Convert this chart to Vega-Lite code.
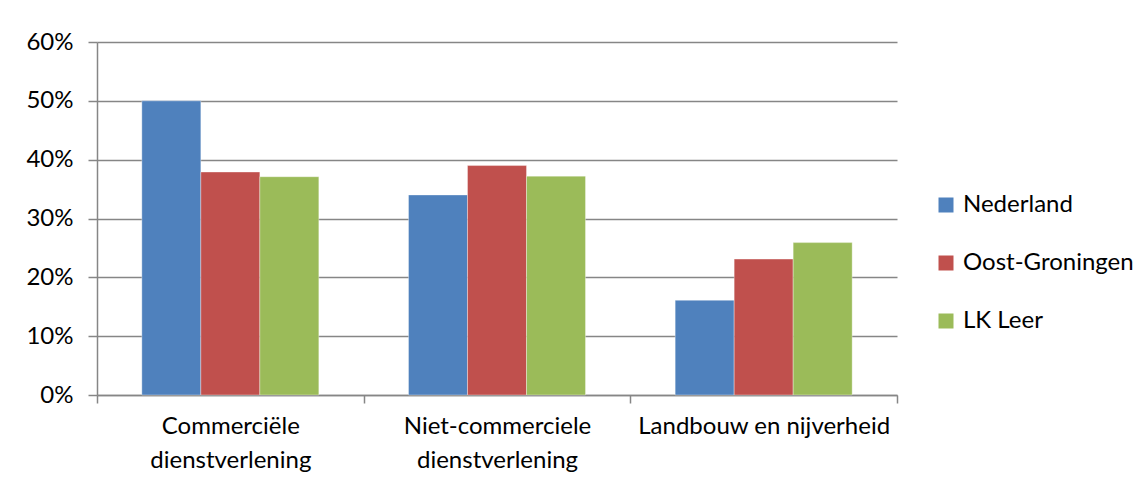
{
  "$schema": "https://vega.github.io/schema/vega-lite/v6.json",
  "autosize": "none",
  "width": 800,
  "height": 353,
  "padding": {"left": 97, "top": 42, "right": 249, "bottom": 91},
  "background": "white",
  "data": {
    "values": [
      {"sector": "Commerciële dienstverlening", "regio": "Nederland", "waarde": 0.50},
      {"sector": "Commerciële dienstverlening", "regio": "Oost-Groningen", "waarde": 0.379},
      {"sector": "Commerciële dienstverlening", "regio": "LK Leer", "waarde": 0.371},
      {"sector": "Niet-commerciele dienstverlening", "regio": "Nederland", "waarde": 0.34},
      {"sector": "Niet-commerciele dienstverlening", "regio": "Oost-Groningen", "waarde": 0.39},
      {"sector": "Niet-commerciele dienstverlening", "regio": "LK Leer", "waarde": 0.372},
      {"sector": "Landbouw en nijverheid", "regio": "Nederland", "waarde": 0.161},
      {"sector": "Landbouw en nijverheid", "regio": "Oost-Groningen", "waarde": 0.231},
      {"sector": "Landbouw en nijverheid", "regio": "LK Leer", "waarde": 0.259}
    ]
  },
  "mark": {"type": "bar", "stroke": "#ffffff", "strokeOpacity": 0.35, "strokeWidth": 1},
  "encoding": {
    "x": {
      "field": "sector",
      "type": "nominal",
      "sort": null,
      "scale": {"paddingInner": 0, "paddingOuter": 0},
      "axis": {
        "title": null,
        "labelAngle": 0,
        "tickBand": "extent",
        "labelExpr": "!isValid(datum.value) ? '' : (datum.value == 'Landbouw en nijverheid' ? datum.value : split(datum.value, ' '))",
        "labelLineHeight": 34,
        "labelPadding": 11,
        "labelLimit": 400,
        "tickSize": 8,
        "tickColor": "#868686",
        "tickWidth": 1.5,
        "domainColor": "#868686",
        "domainWidth": 1.5
      }
    },
    "xOffset": {
      "field": "regio",
      "type": "nominal",
      "sort": ["Nederland", "Oost-Groningen", "LK Leer"],
      "scale": {"paddingInner": 0, "paddingOuter": 0.76}
    },
    "y": {
      "field": "waarde",
      "type": "quantitative",
      "scale": {"domain": [0, 0.6], "nice": false},
      "axis": {
        "title": null,
        "format": ".0%",
        "values": [0, 0.1, 0.2, 0.3, 0.4, 0.5, 0.6],
        "gridColor": "#868686",
        "gridWidth": 1.5,
        "tickColor": "#868686",
        "tickWidth": 1.5,
        "tickSize": 9,
        "domainColor": "#868686",
        "domainWidth": 1.5,
        "labelPadding": 15
      }
    },
    "color": {
      "field": "regio",
      "type": "nominal",
      "sort": ["Nederland", "Oost-Groningen", "LK Leer"],
      "scale": {"domain": ["Nederland", "Oost-Groningen", "LK Leer"], "range": ["#4F81BD", "#C0504D", "#9BBB59"]},
      "legend": {
        "title": null,
        "orient": "none",
        "legendX": 837,
        "legendY": 151,
        "symbolType": "square",
        "symbolSize": 225,
        "symbolStrokeWidth": 0,
        "rowPadding": 34,
        "labelOffset": 5,
        "labelLimit": 300
      }
    }
  },
  "config": {
    "font": "Lato",
    "view": {"stroke": null},
    "axis": {"labelFont": "Lato", "labelFontSize": 24, "labelColor": "#000000"},
    "legend": {"labelFont": "Lato", "labelFontSize": 24, "labelColor": "#000000"}
  }
}
